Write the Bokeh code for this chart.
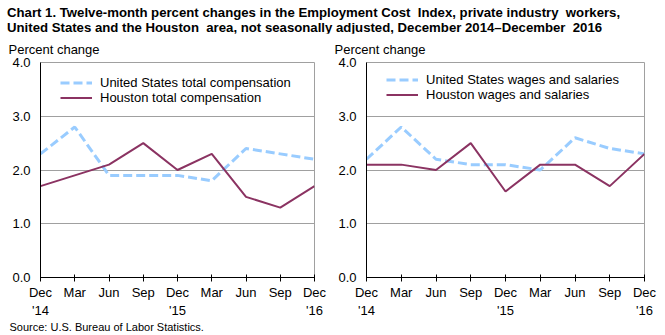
from bokeh.plotting import figure
from bokeh.models import Div, Title, Legend, LegendItem, FixedTicker, Range1d
from bokeh.layouts import column, row
from bokeh.embed import file_html
from bokeh.resources import INLINE

quarters = ["Dec\n'14", "Mar", "Jun", "Sep", "Dec\n'15", "Mar", "Jun", "Sep", "Dec\n'16"]
x_idx = list(range(len(quarters)))

us_total_comp = [2.3, 2.8, 1.9, 1.9, 1.9, 1.8, 2.4, 2.3, 2.2]
houston_total_comp = [1.7, 1.9, 2.1, 2.5, 2.0, 2.3, 1.5, 1.3, 1.7]
us_wages = [2.2, 2.8, 2.2, 2.1, 2.1, 2.0, 2.6, 2.4, 2.3]
houston_wages = [2.1, 2.1, 2.0, 2.5, 1.6, 2.1, 2.1, 1.7, 2.3]

y_ticks = [0, 1, 2, 3, 4]
y_tick_labels = ["0.0", "1.0", "2.0", "3.0", "4.0"]

title_lines = ["Chart 1. Twelve-month percent changes in the Employment Cost  Index, private industry  workers,",
               "United States and the Houston  area, not seasonally adjusted, December 2014\u2013December  2016"]
y_label = "Percent change"
source_text = "Source: U.S. Bureau of Labor Statistics."

BLUE = "#99CCFF"
MAROON = "#8B3362"
FONT = "Liberation Sans"


def make_panel(us, hou, us_label, hou_label, width, left, right, legend_y, with_source=False):
    p = figure(width=width, height=302, output_backend="svg", toolbar_location=None,
               x_range=Range1d(0, 8), y_range=Range1d(0, 4),
               min_border_left=left, min_border_right=right,
               min_border_top=0, min_border_bottom=58)
    p.outline_line_color = "#A0A0A0"
    p.background_fill_color = "white"
    p.border_fill_color = "white"

    r_us = p.line(x_idx, us, line_color=BLUE, line_width=3, line_dash="9 4")
    r_h = p.line(x_idx, hou, line_color=MAROON, line_width=2)

    xa = p.xaxis[0]
    xa.ticker = FixedTicker(ticks=x_idx)
    xa.major_label_overrides = {i: q for i, q in zip(x_idx, quarters)}
    xa.major_tick_in = 3
    xa.major_tick_out = 4
    xa.minor_tick_line_color = None
    xa.axis_line_color = "black"
    xa.major_tick_line_color = "black"
    xa.major_label_standoff = 3
    xa.major_label_text_font = FONT
    xa.major_label_text_font_size = "13px"
    xa.major_label_text_color = "black"

    ya = p.yaxis[0]
    ya.ticker = FixedTicker(ticks=y_ticks)
    ya.major_label_overrides = {t: l for t, l in zip(y_ticks, y_tick_labels)}
    ya.major_tick_in = 0
    ya.major_tick_out = 0
    ya.minor_tick_line_color = None
    ya.axis_line_color = "black"
    ya.major_label_standoff = 10
    ya.major_label_text_font = FONT
    ya.major_label_text_font_size = "13px"
    ya.major_label_text_color = "black"

    p.xgrid.grid_line_color = None
    p.ygrid.ticker = FixedTicker(ticks=y_ticks)
    p.ygrid.grid_line_color = "#A0A0A0"
    p.ygrid.grid_line_width = 1

    legend = Legend(items=[LegendItem(label=us_label, renderers=[r_us]),
                           LegendItem(label=hou_label, renderers=[r_h])],
                    location=(20, legend_y), margin=0, padding=0, spacing=0,
                    glyph_width=32, glyph_height=13, label_height=13,
                    label_standoff=8, label_text_font=FONT,
                    label_text_font_size="13px", label_text_color="black",
                    border_line_color=None, background_fill_alpha=0)
    p.add_layout(legend, "center")

    p.add_layout(Title(text=y_label, align="left", offset=-32, standoff=12,
                       text_font=FONT, text_font_size="13px", text_font_style="normal",
                       text_color="black"), "above")
    if with_source:
        p.add_layout(Title(text=source_text, align="left", offset=-31, standoff=-4,
                           text_font=FONT, text_font_size="11px", text_font_style="normal",
                           text_color="black"), "below")
    return p


p1 = make_panel(us_total_comp, houston_total_comp, "United States total compensation",
                "Houston total compensation", 332, 40, 18, 172, with_source=True)
p2 = make_panel(us_wages, houston_wages, "United States wages and salaries",
                "Houston wages and salaries", 333, 34, 21, 175)

title = Div(text="<br>".join(title_lines), width=665, height=33, margin=(0, 0, 0, 0),
            styles={"font-family": "Liberation Sans, Arial, sans-serif", "font-weight": "bold",
                    "font-size": "13.2px", "line-height": "15px", "padding-left": "7px",
                    "padding-top": "5px", "color": "black", "white-space": "pre"})

layout = column(title, row(p1, p2, spacing=0), spacing=0)
open("out.html", "w").write(file_html(layout, INLINE))
